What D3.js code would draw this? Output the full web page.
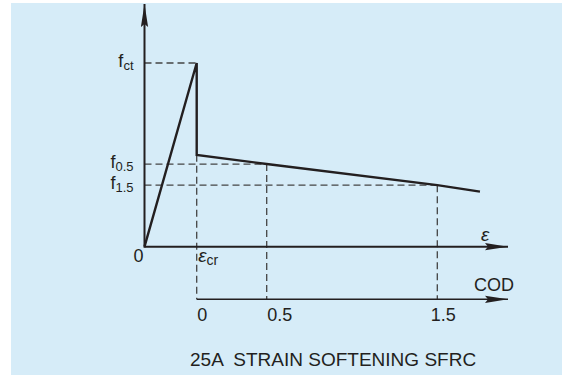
<!DOCTYPE html>
<html>
<head>
<meta charset="utf-8">
<script src="https://cdn.jsdelivr.net/npm/d3@7"></script>
<style>
  html, body { margin: 0; padding: 0; background: #ffffff; }
  svg { display: block; }
  text { font-family: "Liberation Sans", Arial, sans-serif; fill: #231f20; }
</style>
</head>
<body>
<svg id="chart" width="562" height="375"></svg>
<script>
// ---- data ----
const stressSubs = ["ct", "0.5", "1.5"];        // f_ct, f_0.5, f_1.5
const stressValues = [1.0, 0.45, 0.335];         // normalised by f_ct
const stressAtCOD = [null, 0.5, 1.5];            // COD where each level is read (null = at ε_cr)
const elasticStrain = [0, 1];                    // ε / ε_cr
const elasticStress = [0, 1];
const dropStress = [1, 0.5];                     // vertical drop at ε_cr
const softCOD = [0, 0.5, 1.5, 1.75];
const softStress = [0.5, 0.45, 0.335, 0.30];
const codTicks = [0, 0.5, 1.5];
const codTickLabels = ["0", "0.5", "1.5"];
const titleText = "25A  STRAIN SOFTENING SFRC";

// ---- layout ----
const svg = d3.select("#chart");
svg.append("rect").attr("x", 11).attr("y", 3).attr("width", 551).attr("height", 372).attr("fill", "#d6ecf8");

const x = d3.scaleLinear().domain([0, 1]).range([144.5, 196.7]);           // strain
const cod = d3.scaleLinear().domain(codTicks).range([x(1), 266.7, 437.3]);  // crack opening
const y = d3.scaleLinear().domain([0, 1]).range([246.7, 63]);
const axisEnd = 508, yTop = 4, codY = 299.3;
const ink = "#231f20", dashC = "#444444";

const defs = svg.append("defs");
defs.append("marker").attr("id", "arr").attr("markerUnits", "userSpaceOnUse")
  .attr("viewBox", "0 -4 24 8").attr("refX", 23).attr("refY", 0)
  .attr("markerWidth", 24).attr("markerHeight", 8).attr("orient", "auto")
  .append("path").attr("d", "M0,-3.6 L23,0 L0,3.6 L3,0 Z").attr("fill", ink);

// dashed guides
const dash = svg.append("g").attr("stroke", dashC).attr("stroke-width", 1.3)
  .attr("stroke-dasharray", "7,4").attr("fill", "none");
stressValues.forEach((v, i) => {
  const xe = stressAtCOD[i] === null ? x(1) : cod(stressAtCOD[i]);
  dash.append("line").attr("x1", x(0)).attr("x2", xe).attr("y1", y(v)).attr("y2", y(v));
});
dash.append("line").attr("x1", x(1)).attr("x2", x(1)).attr("y1", y(softStress[0])).attr("y2", codY);
codTicks.slice(1).forEach((c, i) => {
  dash.append("line").attr("x1", cod(c)).attr("x2", cod(c)).attr("y1", y(stressValues[i + 1])).attr("y2", codY);
});

// axes
svg.append("line").attr("x1", x(0)).attr("x2", x(0)).attr("y1", y(0) + 1).attr("y2", yTop)
  .attr("stroke", ink).attr("stroke-width", 2).attr("marker-end", "url(#arr)");
svg.append("line").attr("x1", x(0)).attr("x2", axisEnd).attr("y1", y(0)).attr("y2", y(0))
  .attr("stroke", ink).attr("stroke-width", 2).attr("marker-end", "url(#arr)");
svg.append("line").attr("x1", cod(0)).attr("x2", axisEnd).attr("y1", codY).attr("y2", codY)
  .attr("stroke", ink).attr("stroke-width", 1.6).attr("marker-end", "url(#arr)");

// curve
const pts = [];
elasticStrain.forEach((e, i) => pts.push([x(e), y(elasticStress[i])]));
dropStress.slice(1).forEach(s => pts.push([x(1), y(s)]));
softCOD.slice(1).forEach((c, i) => pts.push([cod(c), y(softStress[i + 1])]));
svg.append("path").attr("d", d3.line()(pts)).attr("fill", "none")
  .attr("stroke", ink).attr("stroke-width", 2.4).attr("stroke-linejoin", "miter");

// stress labels
stressValues.forEach((v, i) => {
  const t = svg.append("text").attr("x", x(0) - 11).attr("y", y(v) + 3.5)
    .attr("text-anchor", "end").attr("font-size", 18);
  t.append("tspan").text("f");
  t.append("tspan").attr("font-size", 13).attr("dy", 3.5).text(stressSubs[i]);
});

// origin + epsilon labels
svg.append("text").attr("x", x(0) - 6).attr("y", 262).attr("text-anchor", "middle")
  .attr("font-size", 18).text("0");
const ecr = svg.append("text").attr("x", x(1) + 1.5).attr("y", 262).attr("font-size", 19);
ecr.append("tspan").attr("font-style", "italic").text("ε");
ecr.append("tspan").attr("font-size", 14).attr("dy", 3).text("cr");
svg.append("text").attr("x", 481).attr("y", 241).attr("font-size", 19)
  .attr("font-style", "italic").text("ε");
svg.append("text").attr("x", 474).attr("y", 290.7).attr("font-size", 18).text("COD");

// COD tick labels
svg.append("g").selectAll("text").data(codTicks).join("text")
  .attr("x", d => cod(d)).attr("dx", (d, i) => i === codTicks.length - 1 ? -6.5 : 0.5)
  .attr("y", 321).attr("font-size", 18).text((d, i) => codTickLabels[i]);

// title
svg.append("text").attr("x", 190).attr("y", 366).attr("font-size", 19)
  .attr("xml:space", "preserve").style("white-space", "pre").text(titleText);
</script>
</body>
</html>
